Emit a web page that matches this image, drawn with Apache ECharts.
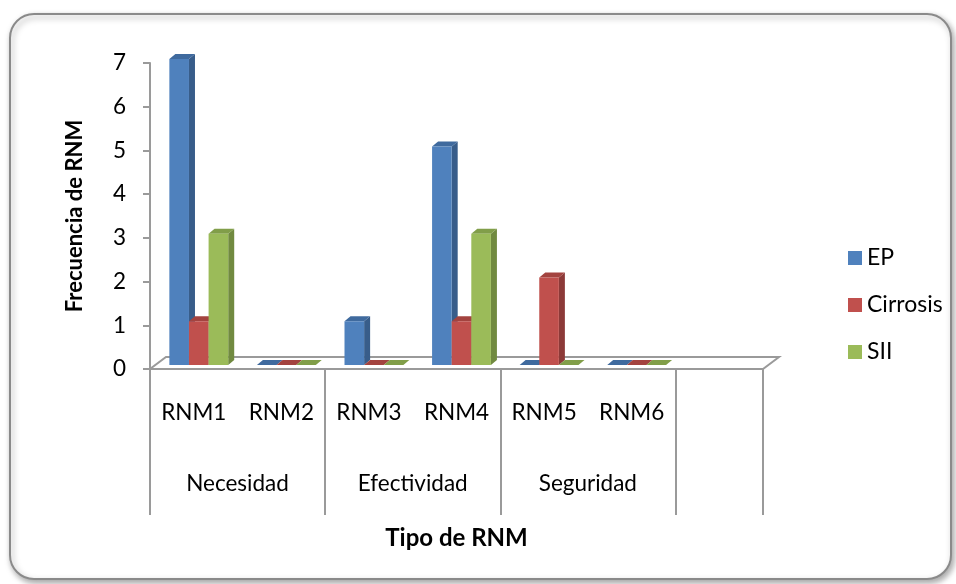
<!DOCTYPE html>
<html>
<head>
<meta charset="utf-8">
<script src="https://cdn.jsdelivr.net/npm/echarts@6/dist/echarts.min.js"></script>
<style>
  html, body { margin: 0; padding: 0; background: #ffffff; }
  #chart { width: 956px; height: 584px; }
</style>
</head>
<body>
<div id="chart"></div>
<script>
// Categories (last slot is an empty category) and their groups
const categories = ['RNM1', 'RNM2', 'RNM3', 'RNM4', 'RNM5', 'RNM6', ''];
const groups = ['Necesidad', 'Efectividad', 'Seguridad'];
const yTicks = [0, 1, 2, 3, 4, 5, 6, 7];

// Series values per RNM type
const seriesNames = ['EP', 'Cirrosis', 'SII'];
const valuesEP = [7, 0, 1, 5, 0, 0];
const valuesCirrosis = [1, 0, 0, 1, 2, 0];
const valuesSII = [3, 0, 0, 3, 0, 0];

const FONT = 'Lato, "Open Sans", sans-serif';

// Face colours: front, side, top
const palette = [
  { front: '#4F81BD', side: '#385D8A', top: '#3F6A9E' },
  { front: '#C0504D', side: '#8C3A38', top: '#A3433F' },
  { front: '#9BBB59', side: '#718A40', top: '#819E49' }
];

// 3D look: bar depth vector and bar shift relative to the axis
const DEPTH = [6, -5];
const SHIFT = [5, -4];
const FLOOR = [16, -12];

function makeBarRenderer(k) {
  return function (params, api) {
    const idx = api.value(0);
    const v = api.value(1);
    const catW = api.size([1, 0])[0];
    const bw = catW * 0.224;
    const base = api.coord([idx, 0]);
    const top = api.coord([idx, v]);
    const x0 = base[0] - 1.5 * bw + k * bw + SHIFT[0];
    const y0 = base[1] + SHIFT[1];
    const y1 = top[1] + SHIFT[1];
    const c = palette[k];
    const [dx, dy] = DEPTH;
    return {
      type: 'group',
      children: [
        {
          type: 'polygon',
          shape: { points: [[x0 + bw, y1], [x0 + bw + dx, y1 + dy], [x0 + bw + dx, y0 + dy], [x0 + bw, y0]] },
          style: { fill: c.side }
        },
        {
          type: 'polygon',
          shape: { points: [[x0, y1], [x0 + bw, y1], [x0 + bw + dx, y1 + dy], [x0 + dx, y1 + dy]] },
          style: { fill: c.top }
        },
        {
          type: 'rect',
          shape: { x: x0, y: y1, width: bw, height: Math.max(0, y0 - y1) },
          style: { fill: c.front }
        }
      ]
    };
  };
}

function renderFloor(params, api) {
  const cs = params.coordSys;
  const fy = api.coord([0, 0])[1];
  const lx = cs.x, rx = cs.x + cs.width;
  return {
    type: 'polygon',
    shape: { points: [[lx, fy], [rx, fy], [rx + FLOOR[0], fy + FLOOR[1]], [lx + FLOOR[0], fy + FLOOR[1]]] },
    style: { fill: '#ffffff', stroke: '#9a9a9a', lineWidth: 2 }
  };
}

const allValues = [valuesEP, valuesCirrosis, valuesSII];

const chart = echarts.init(document.getElementById('chart'));
chart.setOption({
  backgroundColor: 'transparent',
  animation: false,
  graphic: [{
    type: 'rect',
    z: -10,
    shape: { x: 10, y: 14, width: 941, height: 565, r: 24 },
    style: {
      fill: '#ffffff', stroke: '#8a8a8a', lineWidth: 2,
      shadowBlur: 6, shadowColor: 'rgba(0,0,0,0.35)', shadowOffsetX: 2, shadowOffsetY: 3
    }
  }],
  legend: {
    data: seriesNames,
    orient: 'vertical',
    left: 843,
    top: 241,
    icon: 'rect',
    itemWidth: 14,
    itemHeight: 14,
    itemGap: 23,
    itemStyle: { borderWidth: 0 },
    textStyle: { fontFamily: FONT, fontSize: 23, lineHeight: 24, color: '#000', padding: [0, 0, 0, 0] }
  },
  grid: { left: 150, right: 193, top: 63, bottom: 215, containLabel: false },
  xAxis: [
    {
      type: 'category',
      data: categories,
      boundaryGap: true,
      name: 'Tipo de RNM',
      nameLocation: 'middle',
      nameGap: 157,
      nameTextStyle: { fontFamily: FONT, fontSize: 24, fontWeight: 'bold', color: '#000' },
      axisLine: { show: true, lineStyle: { color: '#9a9a9a', width: 2 } },
      axisTick: { show: false },
      axisLabel: { interval: 0, margin: 32, fontFamily: FONT, fontSize: 22.5, color: '#000' },
      splitLine: { show: false }
    },
    {
      type: 'value',
      min: 0,
      max: 7,
      interval: 1,
      position: 'bottom',
      offset: 0,
      axisLine: { show: false },
      axisTick: { show: true, customValues: [0, 2, 4, 6, 7], length: 146, lineStyle: { color: '#9a9a9a', width: 2 } },
      axisLabel: {
        customValues: [1, 3, 5],
        margin: 103,
        fontFamily: FONT, fontSize: 22.5, color: '#000',
        formatter: function (v) { return groups[(v - 1) / 2] || ''; }
      },
      splitLine: { show: false }
    }
  ],
  yAxis: {
    type: 'value',
    min: yTicks[0],
    max: yTicks[yTicks.length - 1],
    interval: 1,
    name: 'Frecuencia de RNM',
    nameLocation: 'middle',
    nameGap: 64,
    nameRotate: 90,
    nameTextStyle: { fontFamily: FONT, fontSize: 22, fontWeight: 'bold', color: '#000' },
    axisLine: { show: true, lineStyle: { color: '#9a9a9a', width: 2 } },
    axisTick: { show: true, length: 7, lineStyle: { color: '#9a9a9a', width: 2 } },
    axisLabel: { margin: 24, fontFamily: FONT, fontSize: 22.5, color: '#000' },
    splitLine: { show: false }
  },
  series: [
    {
      type: 'custom',
      name: 'floor',
      xAxisIndex: 0,
      silent: true,
      renderItem: renderFloor,
      data: [[0, 0]],
      z: 1
    }
  ].concat(seriesNames.map(function (name, k) {
    return {
      type: 'custom',
      name: name,
      xAxisIndex: 0,
      itemStyle: { color: palette[k].front },
      renderItem: makeBarRenderer(k),
      encode: { x: 0, y: 1 },
      data: allValues[k].map(function (v, i) { return [i, v]; }),
      z: 2
    };
  }))
});
</script>
</body>
</html>
